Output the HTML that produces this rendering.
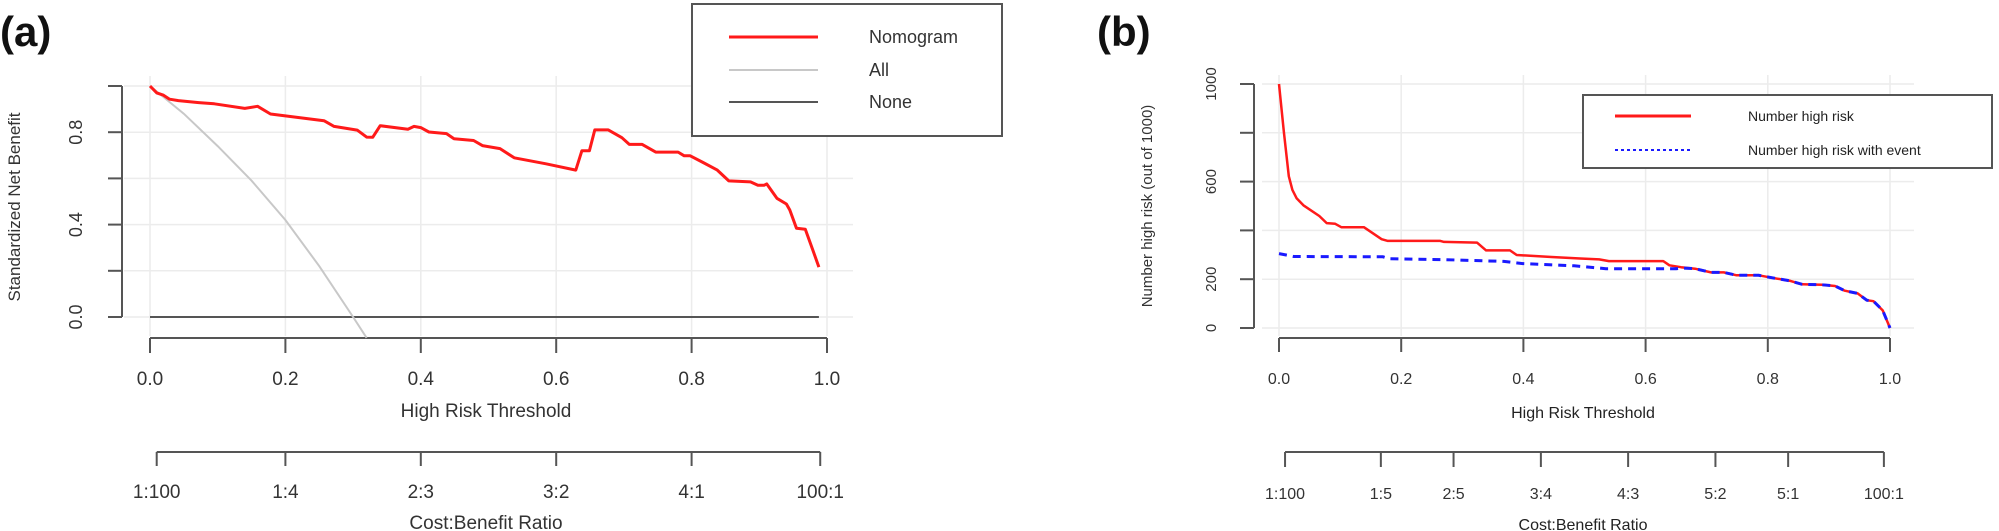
<!DOCTYPE html>
<html><head><meta charset="utf-8"><style>
html,body{margin:0;padding:0;background:#fff;}
svg{display:block;font-family:"Liberation Sans",Arial,sans-serif;}
</style></head><body>
<svg id="fig" width="1999" height="531" viewBox="0 0 1999 531">
<text x="0" y="46" font-size="42" font-weight="bold" fill="#111">(a)</text>
<text x="1097" y="46" font-size="42" font-weight="bold" fill="#111">(b)</text>
<g id="pa"></g>
<g id="pb"></g>
</svg>
<script>
// Panel A data
const aTicksX = [0, 0.2, 0.4, 0.6, 0.8, 1.0];
const aTickLabelsX = ["0.0","0.2","0.4","0.6","0.8","1.0"];
const aTicksY = [0, 0.2, 0.4, 0.6, 0.8, 1.0];
const aTickLabelsY = ["0.0","","0.4","","0.8",""];
const aCostTicks = [0.0099, 0.2, 0.4, 0.6, 0.8, 0.99];
const aCostLabels = ["1:100","1:4","2:3","3:2","4:1","100:1"];
const nomoX = [0,.01,.02,.029,.042,.072,.095,.14,.159,.178,.257,.272,.306,.32,.329,.34,.381,.39,.4,.412,.438,.449,.478,.491,.517,.538,.585,.629,.638,.649,.657,.677,.697,.708,.727,.747,.78,.789,.798,.817,.838,.855,.887,.898,.907,.911,.926,.94,.945,.955,.968,.979,.988];
const nomoY = [1,.97,.96,.943,.937,.928,.923,.903,.912,.879,.85,.825,.809,.779,.778,.828,.813,.825,.82,.801,.794,.772,.764,.742,.729,.689,.663,.636,.72,.72,.81,.81,.776,.747,.747,.714,.714,.698,.698,.669,.636,.589,.585,.57,.57,.576,.514,.489,.463,.384,.38,.29,.216];
const allX = [0,.05,.1,.15,.2,.25,.3,.32];
const allY = [1,.88,.74,.59,.42,.22,0,-.09];
const noneX = [0,.988];
const noneY = [0,0];
// Panel B data
const bTicksX = [0,0.2,0.4,0.6,0.8,1.0];
const bTickLabelsX = ["0.0","0.2","0.4","0.6","0.8","1.0"];
const bTicksY = [0,200,400,600,800,1000];
const bTickLabelsY = ["0","200","","600","","1000"];
const bCostTicks = [0.0099,0.1667,0.2857,0.4286,0.5714,0.7143,0.8333,0.99];
const bCostLabels = ["1:100","1:5","2:5","3:4","4:3","5:2","5:1","100:1"];
const riskX = [0,.008,.016,.022,.029,.04,.066,.078,.092,.102,.139,.168,.178,.264,.27,.324,.339,.378,.389,.446,.493,.524,.54,.629,.639,.658,.681,.707,.728,.749,.785,.811,.837,.856,.889,.91,.926,.947,.962,.973,.988,1.0];
const riskY = [1000,802,622,566,531,503,459,430,427,413,413,364,357,357,353,350,318,318,299,291,285,281,274,274,257,249,243,228,228,216,216,204,193,179,177,172,153,142,114,110,72,0];
const eventX = [0,.024,.17,.18,.274,.368,.399,.483,.535,.65,.66,.681,.707,.728,.749,.785,.811,.837,.856,.889,.91,.926,.947,.962,.973,.988,1.0];
const eventY = [305,293,292,284,280,273,264,255,243,243,246,243,228,228,216,216,204,193,179,177,172,153,142,114,110,72,0];

const NS="http://www.w3.org/2000/svg";
function mk(parent, tag, attrs){const e=document.createElementNS(NS,tag);for(const k in attrs)e.setAttribute(k,attrs[k]);parent.appendChild(e);return e;}
function pathD(xs,ys,fx,fy){return xs.map((x,i)=>(i?'L':'M')+fx(x).toFixed(1)+' '+fy(ys[i]).toFixed(1)).join(' ');}

// ---- Panel A
const pa=document.getElementById('pa');
const xa=v=>150+v*677, ya=v=>317-v*231;
aTicksY.forEach(t=>{const l=mk(pa,'line',{x1:124,x2:853,y1:ya(t),y2:ya(t),stroke:'#ececec','stroke-width':1.5});

});
aTicksX.forEach(t=>{const l=mk(pa,'line',{x1:xa(t),x2:xa(t),y1:76,y2:336,stroke:'#ececec','stroke-width':1.5});

});
let e=mk(pa,'line',{x1:122,x2:122,y1:ya(1),y2:ya(0),stroke:'#555','stroke-width':2});


aTicksY.forEach((t,i)=>{const l=mk(pa,'line',{x1:108,x2:122,y1:ya(t),y2:ya(t),stroke:'#555','stroke-width':2});


if(aTickLabelsY[i]){const tx=mk(pa,'text',{x:0,y:0,transform:`translate(82 ${ya(t)}) rotate(-90)`,'text-anchor':'middle','font-size':18,fill:'#333'});tx.textContent=aTickLabelsY[i];

}});
e=mk(pa,'text',{transform:'translate(20 207) rotate(-90)','text-anchor':'middle','font-size':17,fill:'#333'});e.textContent='Standardized Net Benefit';


e=mk(pa,'line',{x1:xa(0),x2:xa(1),y1:338,y2:338,stroke:'#555','stroke-width':2});


aTicksX.forEach((t,i)=>{const l=mk(pa,'line',{x1:xa(t),x2:xa(t),y1:338,y2:353,stroke:'#555','stroke-width':2});


const tx=mk(pa,'text',{x:xa(t),y:385,'text-anchor':'middle','font-size':19,fill:'#333'});tx.textContent=aTickLabelsX[i];

});
e=mk(pa,'text',{x:486,y:417,'text-anchor':'middle','font-size':19,fill:'#333'});e.textContent='High Risk Threshold';


e=mk(pa,'line',{x1:xa(aCostTicks[0]),x2:xa(aCostTicks[aCostTicks.length-1]),y1:452,y2:452,stroke:'#555','stroke-width':2});


aCostTicks.forEach((t,i)=>{const l=mk(pa,'line',{x1:xa(t),x2:xa(t),y1:452,y2:466,stroke:'#555','stroke-width':2});


const tx=mk(pa,'text',{x:xa(t),y:498,'text-anchor':'middle','font-size':19,fill:'#333'});tx.textContent=aCostLabels[i];

});
e=mk(pa,'text',{x:486,y:529,'text-anchor':'middle','font-size':19,fill:'#333'});e.textContent='Cost:Benefit Ratio';


e=mk(pa,'path',{d:pathD(noneX,noneY,xa,ya),stroke:'#555','stroke-width':2,fill:'none'});


e=mk(pa,'path',{d:pathD(allX,allY,xa,ya),stroke:'#c8c8c8','stroke-width':2,fill:'none'});


e=mk(pa,'path',{d:pathD(nomoX,nomoY,xa,ya),stroke:'#ff1a1a','stroke-width':3,fill:'none','stroke-linejoin':'round'});


// legend A
const lga=mk(pa,'g',{});


mk(lga,'rect',{x:692,y:4,width:310,height:132,fill:'#fff',stroke:'#555','stroke-width':2});
[['#ff1a1a',3,'Nomogram',37],['#c8c8c8',2,'All',70],['#555',2,'None',102]].forEach(r=>{
const g=mk(lga,'g',{});


mk(g,'line',{x1:729,x2:818,y1:r[3],y2:r[3],stroke:r[0],'stroke-width':r[1]});
const t=mk(g,'text',{x:869,y:r[3]+6,'font-size':18,fill:'#333'});t.textContent=r[2];});

// ---- Panel B
const pb=document.getElementById('pb');
const xb=v=>1279+v*611, yb=v=>328-v*0.244;
bTicksY.forEach(t=>{const l=mk(pb,'line',{x1:1262,x2:1914,y1:yb(t),y2:yb(t),stroke:'#ececec','stroke-width':1.5});

});
bTicksX.forEach(t=>{const l=mk(pb,'line',{x1:xb(t),x2:xb(t),y1:75,y2:336,stroke:'#ececec','stroke-width':1.5});

});
e=mk(pb,'line',{x1:1254,x2:1254,y1:yb(1000),y2:yb(0),stroke:'#555','stroke-width':2});


bTicksY.forEach((t,i)=>{const l=mk(pb,'line',{x1:1240,x2:1254,y1:yb(t),y2:yb(t),stroke:'#555','stroke-width':2});


if(bTickLabelsY[i]){const tx=mk(pb,'text',{transform:`translate(1216 ${yb(t)}) rotate(-90)`,'text-anchor':'middle','font-size':15,fill:'#333'});tx.textContent=bTickLabelsY[i];

}});
e=mk(pb,'text',{transform:'translate(1152 206) rotate(-90)','text-anchor':'middle','font-size':15,fill:'#333'});e.textContent='Number high risk (out of 1000)';


e=mk(pb,'line',{x1:xb(0),x2:xb(1),y1:338,y2:338,stroke:'#555','stroke-width':2});


bTicksX.forEach((t,i)=>{const l=mk(pb,'line',{x1:xb(t),x2:xb(t),y1:338,y2:352,stroke:'#555','stroke-width':2});


const tx=mk(pb,'text',{x:xb(t),y:384,'text-anchor':'middle','font-size':16,fill:'#333'});tx.textContent=bTickLabelsX[i];

});
e=mk(pb,'text',{x:1583,y:418,'text-anchor':'middle','font-size':16,fill:'#222'});e.textContent='High Risk Threshold';


e=mk(pb,'line',{x1:xb(bCostTicks[0]),x2:xb(bCostTicks[bCostTicks.length-1]),y1:452,y2:452,stroke:'#555','stroke-width':2});


bCostTicks.forEach((t,i)=>{const l=mk(pb,'line',{x1:xb(t),x2:xb(t),y1:452,y2:467,stroke:'#555','stroke-width':2});


const tx=mk(pb,'text',{x:xb(t),y:499,'text-anchor':'middle','font-size':16,fill:'#333'});tx.textContent=bCostLabels[i];

});
e=mk(pb,'text',{x:1583,y:530,'text-anchor':'middle','font-size':16,fill:'#222'});e.textContent='Cost:Benefit Ratio';


e=mk(pb,'path',{d:pathD(riskX,riskY,xb,yb),stroke:'#ff1a1a','stroke-width':2.5,fill:'none','stroke-linejoin':'round'});


e=mk(pb,'path',{d:pathD(eventX,eventY,xb,yb),stroke:'#1a1aff','stroke-width':3,fill:'none','stroke-dasharray':'8 6'});


const lgb=mk(pb,'g',{});


mk(lgb,'rect',{x:1583,y:95,width:409,height:73,fill:'#fff',stroke:'#555','stroke-width':2});
[['#ff1a1a','','Number high risk',116],['#1a1aff','3 3','Number high risk with event',150]].forEach(r=>{
const g=mk(lgb,'g',{});


mk(g,'line',{x1:1615,x2:1691,y1:r[3],y2:r[3],stroke:r[0],'stroke-width':r[1]?2:3,'stroke-dasharray':r[1]||'none'});
const t=mk(g,'text',{x:1748,y:r[3]+5,'font-size':14,fill:'#222'});t.textContent=r[2];});
</script>
</body></html>
